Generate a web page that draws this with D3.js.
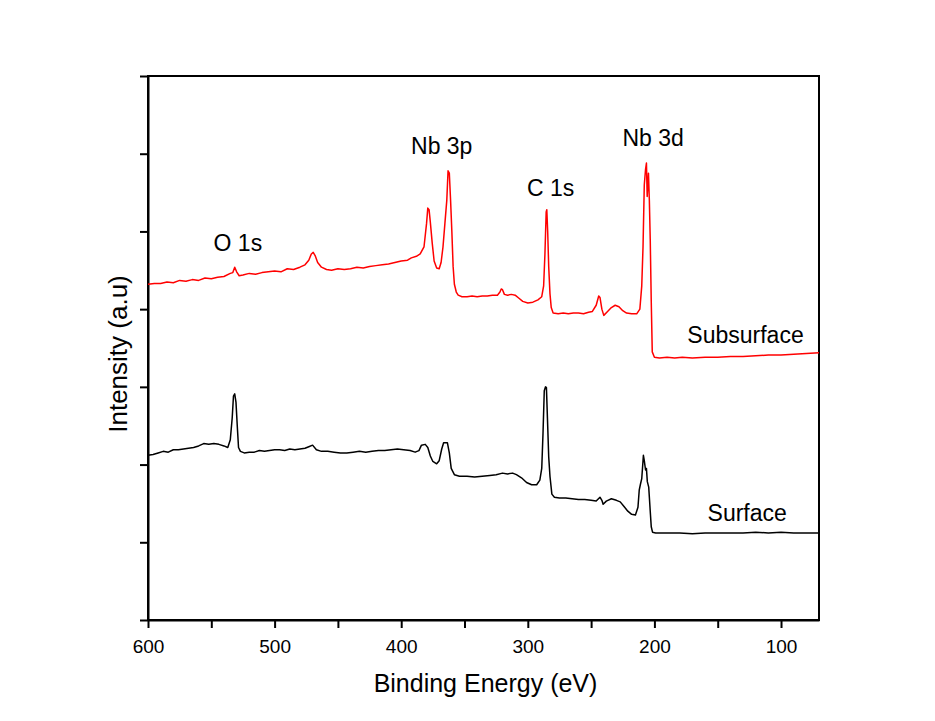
<!DOCTYPE html>
<meta charset="utf-8">
<script src="https://d3js.org/d3.v7.min.js"></script>
<style>

body {
  margin: 0;
  background: #fff;
}

svg {
  display: block;
}

text {
  font-family: "Liberation Sans", Arial, sans-serif;
  fill: #000;
}

.axis path,
.axis line {
  stroke: #000;
  stroke-width: 2px;
}

.frame {
  fill: none;
  stroke: #000;
  stroke-width: 2px;
}

.spectrum {
  fill: none;
  stroke-width: 1.5px;
  stroke-linejoin: round;
}

</style>
<body>
<div class="chart"></div>
<script type="text/javascript">

// Subsurface spectrum (red): binding energy (eV) and intensity (a.u)
var subEnergy = [600, 595, 590, 585, 580, 575, 570, 565, 560, 555, 550, 545, 540, 535, 533, 531.5, 530, 528, 525, 520,
  515, 510, 505, 500, 495, 490, 485, 480, 476, 473, 471, 469.5, 468, 466, 463, 459, 455, 450, 445, 440,
  435, 430, 425, 420, 415, 410, 405, 400, 395, 392, 388, 385, 382, 380, 379, 378, 377, 375.5, 374, 372,
  370, 368.5, 367, 365.5, 364, 363, 362, 361, 360, 359, 358, 356.5, 355, 352, 348, 344, 340, 336, 332, 328,
  324, 322, 321, 320, 318.5, 316, 313, 310, 307, 304, 300, 296, 292, 289, 287.5, 286.5, 285.5, 285, 284.3, 283.5,
  282.5, 281.5, 280, 276, 272, 268, 264, 260, 256, 252, 249, 246, 244, 243, 241.5, 240, 237, 234, 231, 228,
  225, 222, 218, 214, 211.5, 210, 209, 208, 207, 206.3, 205.7, 205.2, 204.7, 204, 203.3, 202.5, 201.7, 200, 196, 190,
  184, 178, 170, 160, 150, 140, 130, 120, 110, 100, 90, 80, 70];
var subIntensity = [4.32, 4.33, 4.33, 4.35, 4.34, 4.37, 4.36, 4.38, 4.37, 4.40, 4.39, 4.41, 4.42, 4.46, 4.47, 4.54, 4.48, 4.43, 4.44, 4.46,
  4.45, 4.47, 4.48, 4.49, 4.48, 4.52, 4.51, 4.54, 4.57, 4.63, 4.71, 4.73, 4.69, 4.60, 4.54, 4.51, 4.50, 4.52, 4.51, 4.52,
  4.54, 4.53, 4.55, 4.56, 4.57, 4.58, 4.60, 4.62, 4.63, 4.66, 4.68, 4.71, 4.80, 5.10, 5.30, 5.28, 5.12, 4.85, 4.62, 4.53,
  4.52, 4.60, 4.80, 5.10, 5.40, 5.78, 5.75, 5.40, 5.00, 4.55, 4.32, 4.22, 4.18, 4.16, 4.16, 4.17, 4.16, 4.17, 4.17, 4.18,
  4.18, 4.22, 4.26, 4.25, 4.19, 4.18, 4.19, 4.18, 4.14, 4.10, 4.08, 4.09, 4.12, 4.16, 4.30, 4.70, 5.25, 5.28, 5.00, 4.55,
  4.20, 4.02, 3.95, 3.94, 3.95, 3.94, 3.95, 3.95, 3.94, 3.96, 3.97, 4.05, 4.17, 4.15, 4.00, 3.92, 3.97, 4.02, 4.05, 4.03,
  3.98, 3.95, 3.94, 3.94, 4.00, 4.30, 4.80, 5.60, 5.80, 5.88, 5.45, 5.60, 5.75, 5.40, 4.90, 4.10, 3.45, 3.38, 3.37, 3.38,
  3.37, 3.38, 3.37, 3.38, 3.38, 3.39, 3.39, 3.40, 3.41, 3.41, 3.42, 3.43, 3.44];

// Surface spectrum (black)
var surfEnergy = [600, 596, 592, 588, 584, 580, 576, 572, 568, 564, 560, 556, 552, 548, 544, 540, 537, 535, 533.5, 532.5,
  531.5, 530.5, 529.5, 528.5, 527, 524, 520, 516, 512, 508, 504, 500, 496, 492, 488, 484, 480, 476, 473, 470,
  467, 463, 458, 453, 448, 443, 438, 433, 428, 423, 418, 413, 408, 403, 398, 393, 389, 386, 384, 381,
  379, 377, 375, 372, 370, 368, 366.5, 363.5, 362, 360.5, 358, 354, 348, 342, 336, 330, 325, 320, 316, 312,
  309, 305, 301, 297, 293, 290.5, 289, 288, 287, 286, 285.3, 284.5, 283.5, 282.5, 281, 279, 275, 270, 265, 260,
  255, 250, 246, 243, 241.5, 240.5, 238, 234, 230, 227, 224, 221, 218, 215, 213, 212, 211, 210, 209, 208.7,
  208, 207, 206.3, 205.6, 204.5, 203.5, 202.5, 201.5, 199, 190, 180, 170, 160, 150, 140, 130, 120, 110, 100, 90,
  80, 70];
var surfIntensity = [2.12, 2.13, 2.15, 2.17, 2.16, 2.19, 2.19, 2.20, 2.21, 2.22, 2.24, 2.27, 2.26, 2.27, 2.26, 2.24, 2.22, 2.32, 2.60, 2.88,
  2.91, 2.80, 2.50, 2.22, 2.17, 2.15, 2.16, 2.16, 2.18, 2.17, 2.18, 2.19, 2.19, 2.18, 2.20, 2.19, 2.20, 2.21, 2.23, 2.25,
  2.19, 2.17, 2.17, 2.16, 2.15, 2.15, 2.16, 2.17, 2.16, 2.17, 2.18, 2.18, 2.19, 2.20, 2.19, 2.18, 2.16, 2.18, 2.25, 2.26,
  2.22, 2.11, 2.04, 2.01, 2.05, 2.20, 2.28, 2.28, 2.15, 1.95, 1.87, 1.85, 1.85, 1.84, 1.85, 1.86, 1.87, 1.89, 1.88, 1.89,
  1.87, 1.83, 1.77, 1.74, 1.74, 1.80, 1.95, 2.40, 2.95, 3.00, 2.99, 2.60, 2.10, 1.85, 1.62, 1.58, 1.57, 1.57, 1.56, 1.55,
  1.55, 1.54, 1.53, 1.58, 1.54, 1.49, 1.53, 1.56, 1.54, 1.52, 1.46, 1.40, 1.36, 1.35, 1.45, 1.67, 1.75, 1.82, 2.05, 2.12,
  2.05, 1.93, 1.95, 1.78, 1.71, 1.45, 1.20, 1.13, 1.12, 1.12, 1.12, 1.11, 1.12, 1.12, 1.12, 1.12, 1.13, 1.12, 1.13, 1.12,
  1.12, 1.12];

// Peak labels
var peakNames = ["O 1s", "Nb 3p", "C 1s", "Nb 3d"];
var peakEnergy = [529, 368, 282, 201];
var peakLevel = [4.75, 6.0, 5.45, 6.1];

// Series labels
var seriesNames = ["Subsurface", "Surface"];
var seriesEnergy = [174, 158];
var seriesLevel = [3.57, 1.28];

var xTicks = [600, 550, 500, 450, 400, 350, 300, 250, 200, 150, 100];
var yTicks = [0, 1, 2, 3, 4, 5, 6, 7];

// plot area
var margin = {top: 76, right: 116, bottom: 101, left: 148},
    width = 935 - margin.left - margin.right,
    height = 721 - margin.top - margin.bottom;

var svg = d3.select(".chart").append("svg")
    .attr("width", 935)
    .attr("height", 721);

var g = svg.append("g")
    .attr("transform", "translate(" + margin.left + "," + margin.top + ")");

var x = d3.scaleLinear()
    .domain([600, 70])
    .range([0, width]);

var y = d3.scaleLinear()
    .domain([0, 7])
    .range([height, 0]);

// frame
g.append("rect")
    .attr("class", "frame")
    .attr("width", width)
    .attr("height", height);

// x axis, labels only on the hundreds
g.append("g")
    .attr("class", "axis")
    .attr("transform", "translate(0," + height + ")")
    .call(d3.axisBottom(x)
      .tickValues(xTicks)
      .tickSize(8)
      .tickSizeOuter(0)
      .tickPadding(12)
      .tickFormat(function(d) { return d % 100 === 0 ? d : ""; }))
    .call(function(a) {
      a.selectAll("text").style("font-size", "19px").style("font-family", "Liberation Sans, Arial, sans-serif");
    });

// y axis, ticks without labels
g.append("g")
    .attr("class", "axis")
    .call(d3.axisLeft(y)
      .tickValues(yTicks)
      .tickSize(8)
      .tickSizeOuter(0)
      .tickFormat(""));

// spectra
var line = d3.line()
    .x(function(d) { return x(d[0]); })
    .y(function(d) { return y(d[1]); });

g.append("path")
    .datum(d3.zip(subEnergy, subIntensity))
    .attr("class", "spectrum")
    .attr("stroke", "#ff0000")
    .attr("d", line);

g.append("path")
    .datum(d3.zip(surfEnergy, surfIntensity))
    .attr("class", "spectrum")
    .attr("stroke", "#000000")
    .attr("d", line);

// peak labels
g.selectAll(".peak")
    .data(peakNames)
    .enter().append("text")
    .attr("class", "peak")
    .attr("x", function(d, i) { return x(peakEnergy[i]); })
    .attr("y", function(d, i) { return y(peakLevel[i]); })
    .attr("text-anchor", "middle")
    .style("font-size", "23px")
    .text(function(d) { return d; });

g.selectAll(".series")
    .data(seriesNames)
    .enter().append("text")
    .attr("class", "series")
    .attr("x", function(d, i) { return x(seriesEnergy[i]); })
    .attr("y", function(d, i) { return y(seriesLevel[i]); })
    .style("font-size", "23px")
    .text(function(d) { return d; });

// axis titles
svg.append("text")
    .attr("x", margin.left + width / 2 + 2)
    .attr("y", 692)
    .attr("text-anchor", "middle")
    .style("font-size", "25px")
    .text("Binding Energy (eV)");

svg.append("text")
    .attr("transform", "translate(127," + (margin.top + height / 2 + 6) + ") rotate(-90)")
    .attr("text-anchor", "middle")
    .style("font-size", "26px")
    .text("Intensity (a.u)");

</script>
</body>
</html>
